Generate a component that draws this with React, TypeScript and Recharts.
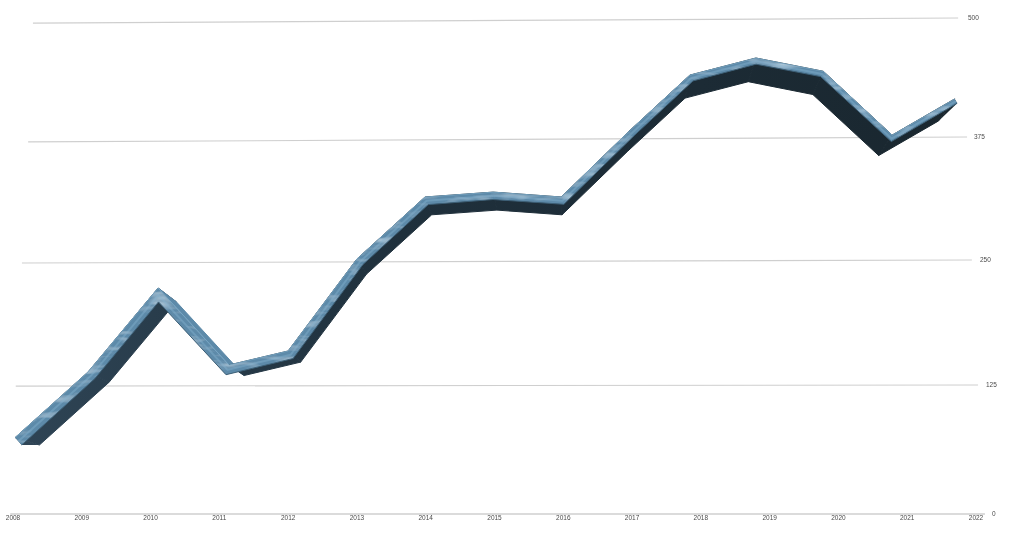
import React from "react";
import { LineChart, Line, XAxis, YAxis, ReferenceLine } from "recharts";

// 年（リボンの頂点は目盛りから少しずれている）
const yearPositions = [
  2008.03, 2009.09, 2010.11, 2011.14, 2012.0, 2013.0, 2013.99, 2014.98,
  2015.97, 2016.97, 2017.84, 2018.8, 2019.78, 2020.78, 2021.69,
];
const values = [74, 138, 222, 145, 159, 251, 314, 319, 314, 382, 440, 458, 444, 377, 415];
const xTicks = [
  2008, 2009, 2010, 2011, 2012, 2013, 2014, 2015, 2016, 2017, 2018, 2019, 2020, 2021, 2022,
];
const yTicks = [0, 125, 250, 375, 500];

// 遠近で傾いたグリッド線（左端の値、左右の年位置）
const gridLeftValues = [0, 124, 247, 370, 494.7];
const gridFromYears = [2007.96, 2008.04, 2008.13, 2008.22, 2008.29];
const gridToYears = [2022.13, 2022.03, 2021.94, 2021.87, 2021.74];

const chartData = yearPositions.map((year, i) => ({ year, value: values[i] }));

// 目盛り間隔が上に行くほど狭くなるスケール
const tickFractions = [0, 129 / 496, 254 / 496, 377 / 496, 1];
const makePerspectiveScale = () => {
  let dom = [0, 500];
  let rng = [514, 18];
  const scale: any = (v: number) => {
    let i = 0;
    while (i < yTicks.length - 2 && v > yTicks[i + 1]) i++;
    const t = (v - yTicks[i]) / (yTicks[i + 1] - yTicks[i]);
    const f = tickFractions[i] + t * (tickFractions[i + 1] - tickFractions[i]);
    return rng[0] + f * (rng[1] - rng[0]);
  };
  scale.domain = (d?: number[]) => (d ? ((dom = d), scale) : dom);
  scale.range = (r?: number[]) => (r ? ((rng = r), scale) : rng);
  scale.ticks = () => yTicks;
  scale.copy = () => makePerspectiveScale().domain(dom).range(rng);
  return scale;
};

const VANISH = { x: 580, y: 610 };
const DEPTH = 0.043;
const LIGHT = "#5d8aa9";

type Pt = { x: number; y: number };

const poly = (pts: Pt[]) => pts.map((p) => `${p.x.toFixed(1)},${p.y.toFixed(1)}`).join(" ");

// 線分の下向き法線
const downNormal = (a: Pt, b: Pt) => {
  const dx = b.x - a.x;
  const dy = b.y - a.y;
  const len = Math.hypot(dx, dy);
  const nx = -dy / len;
  const ny = dx / len;
  return ny < 0 ? { x: -nx, y: -ny } : { x: nx, y: ny };
};

// リボン上面の内側エッジ
const offsetEdge = (pts: Pt[]) => {
  const normals = pts.slice(1).map((p, i) => downNormal(pts[i], p));
  return pts.map((p, i) => {
    const a = normals[Math.max(i - 1, 0)];
    const b = normals[Math.min(i, normals.length - 1)];
    let mx = a.x + b.x;
    let my = a.y + b.y;
    const l = Math.hypot(mx, my);
    mx /= l;
    my /= l;
    const miter = Math.min(1 / Math.max(mx * a.x + my * a.y, 0.5), 1.6);
    const w = (10 - (p.x / 950) * 5) * miter;
    return { x: p.x + mx * w, y: p.y + my * w };
  });
};

const Ribbon = (props: any) => {
  const pts: Pt[] = props.points;
  const inner = offsetEdge(pts);
  const bottom = pts.map((p) => ({
    x: p.x + (VANISH.x - p.x) * DEPTH,
    y: p.y + (VANISH.y - p.y) * DEPTH,
  }));
  const segments = pts.slice(1).map((_, i) => i);
  // 押し出しが線より上側に出る区間は上面として明るく塗る
  const isTopFace = (i: number) => {
    const n = downNormal(pts[i], pts[i + 1]);
    return (bottom[i].x - pts[i].x) * n.x + (bottom[i].y - pts[i].y) * n.y < 0;
  };
  const last = pts.length - 1;
  const center = pts.map((p, i) => ({ x: (p.x + inner[i].x) / 2, y: (p.y + inner[i].y) / 2 }));
  return (
    <g>
      <defs>
        <linearGradient id="sideFill" gradientUnits="userSpaceOnUse" x1="0" y1="0" x2="1000" y2="0">
          <stop offset="0" stopColor="#2f4556" />
          <stop offset="0.4" stopColor="#1f303c" />
          <stop offset="1" stopColor="#19262e" />
        </linearGradient>
        <filter id="mottle" x="0" y="0" width="100%" height="100%">
          <feTurbulence type="fractalNoise" baseFrequency="0.04 0.16" numOctaves="2" seed="4" />
          <feColorMatrix values="0 0 0 0 0.66  0 0 0 0 0.82  0 0 0 0 0.92  1.2 0 0 0 -0.55" />
          <feComposite in2="SourceGraphic" operator="in" />
          <feMerge>
            <feMergeNode in="SourceGraphic" />
            <feMergeNode />
          </feMerge>
        </filter>
      </defs>
      {segments.map((i) => (
        <polygon
          key={`side-${i}`}
          points={poly([pts[i], pts[i + 1], bottom[i + 1], bottom[i]])}
          fill={isTopFace(i) ? LIGHT : "url(#sideFill)"}
          stroke={isTopFace(i) ? LIGHT : "url(#sideFill)"}
          strokeWidth={1}
        />
      ))}
      <polygon points={poly([pts[0], inner[0], bottom[0]])} fill="#2f4556" />
      <polygon points={poly([pts[last], inner[last], bottom[last]])} fill="#19262e" />
      <polygon points={poly([...pts, ...inner.slice().reverse()])} fill={LIGHT} filter="url(#mottle)" />
      <polyline points={poly(inner)} fill="none" stroke="#3d5f76" strokeWidth={1} />
      <polyline points={poly(center)} fill="none" stroke="#86b3d1" strokeWidth={2} opacity={0.4} />
      <polyline points={poly(pts)} fill="none" stroke="#7eaccb" strokeWidth={1} opacity={0.8} />
    </g>
  );
};

const YTick = ({ y, payload }: any) => {
  const labelX: Record<number, number> = { 0: 992, 125: 986, 250: 980, 375: 974, 500: 968 };
  return (
    <text
      x={labelX[payload.value]}
      y={y + 1.5}
      fontSize={6.5}
      fill="#333"
      opacity={0.9}
      fontFamily="Liberation Sans"
    >
      {payload.value}
    </text>
  );
};

const App = () => (
  <div style={{ position: "absolute", left: 0, top: 0 }}>
    <LineChart
      width={1024}
      height={547}
      data={chartData}
      margin={{ top: 18, right: 0, bottom: 0, left: 13 }}
    >
      <XAxis
        dataKey="year"
        type="number"
        domain={[2008, 2022]}
        ticks={xTicks}
        interval={0}
        height={33}
        axisLine={false}
        tickLine={false}
        tickSize={0}
        tickMargin={1}
        tick={{ fontSize: 6.5, fill: "#333", opacity: 0.9, fontFamily: "Liberation Sans" }}
      />
      <YAxis
        orientation="right"
        width={48}
        type="number"
        domain={[0, 500]}
        ticks={yTicks}
        interval={0}
        scale={makePerspectiveScale()}
        axisLine={false}
        tickLine={false}
        tick={<YTick />}
      />
      {yTicks.map((t, i) => (
        <ReferenceLine
          key={t}
          ifOverflow="visible"
          stroke="#cfcfcf"
          strokeWidth={i === 0 ? 1.6 : 1.2}
          segment={[
            { x: gridFromYears[i], y: gridLeftValues[i] },
            { x: gridToYears[i], y: t },
          ]}
        />
      ))}
      <Line
        dataKey="value"
        type="linear"
        dot={false}
        isAnimationActive={false}
        shape={Ribbon as any}
      />
    </LineChart>
  </div>
);

export default App;
